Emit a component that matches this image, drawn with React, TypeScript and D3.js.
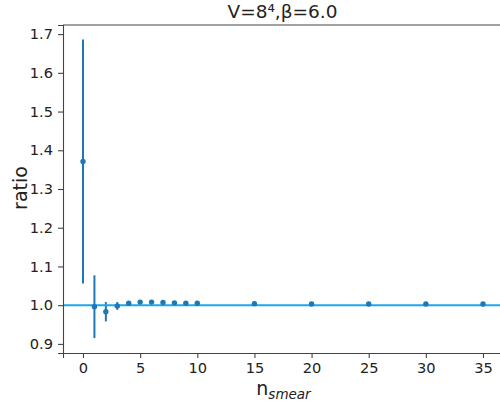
import React, { useEffect, useRef } from 'react';
import * as d3 from 'd3';

// smearing steps, measured ratio and its error
const nSmear = [0, 1, 2, 3, 4, 5, 6, 7, 8, 9, 10, 15, 20, 25, 30, 35];
const ratio = [1.371, 0.996, 0.983, 0.998, 1.005, 1.008, 1.008, 1.007, 1.006, 1.005, 1.005, 1.004, 1.003, 1.003, 1.003, 1.003];
const ratioErr = [0.315, 0.081, 0.025, 0.01, 0.003, 0.003, 0.002, 0.002, 0.002, 0.002, 0.002, 0.001, 0.001, 0.001, 0.001, 0.001];
const xTicks = [0, 5, 10, 15, 20, 25, 30, 35];
const yTicks = [0.9, 1.0, 1.1, 1.2, 1.3, 1.4, 1.5, 1.6, 1.7];

const App = () => {
  const ref = useRef<SVGSVGElement>(null);

  useEffect(() => {
    const svg = d3.select(ref.current);
    svg.selectAll('*').remove();

    const left = 63, top = 25, right = 503, bottom = 353;
    const font = 'DejaVu Sans, sans-serif';

    const x = d3.scaleLinear().domain([-1.75, 36.75]).range([left, right]);
    const y = d3.scaleLinear().domain([0.8765, 1.7235]).range([bottom, top]);

    const color = '#1f77b4';

    // error bars
    svg.append('g')
      .selectAll('line')
      .data(nSmear)
      .enter().append('line')
      .attr('x1', d => x(d))
      .attr('x2', d => x(d))
      .attr('y1', (d, i) => y(ratio[i] - ratioErr[i]))
      .attr('y2', (d, i) => y(ratio[i] + ratioErr[i]))
      .attr('stroke', color)
      .attr('stroke-width', 2);

    // reference line at 1
    svg.append('line')
      .attr('x1', left).attr('x2', right)
      .attr('y1', y(1)).attr('y2', y(1))
      .attr('stroke', '#1ea6ec')
      .attr('stroke-width', 2);

    svg.append('g')
      .selectAll('circle')
      .data(nSmear)
      .enter().append('circle')
      .attr('cx', d => x(d))
      .attr('cy', (d, i) => y(ratio[i]))
      .attr('r', 2.7)
      .attr('fill', color);

    // axes
    const xAxis = svg.append('g')
      .attr('transform', `translate(0,${bottom})`)
      .call(d3.axisBottom(x).tickValues(xTicks).tickSize(5).tickPadding(5).tickFormat(d3.format('d')));
    const yAxis = svg.append('g')
      .attr('transform', `translate(${left},0)`)
      .call(d3.axisLeft(y).tickValues(yTicks).tickSize(5).tickPadding(5).tickFormat(d3.format('.1f')));

    [xAxis, yAxis].forEach(a => {
      a.select('.domain').attr('stroke', '#444').attr('stroke-width', 1.1);
      a.selectAll('.tick line').attr('stroke', '#444').attr('stroke-width', 1.1);
      a.selectAll('.tick text').attr('font-family', font).attr('font-size', 14.6).attr('fill', '#222');
    });

    // top spine
    svg.append('line')
      .attr('x1', left).attr('x2', right)
      .attr('y1', top).attr('y2', top)
      .attr('stroke', '#444').attr('stroke-width', 1.1);

    svg.append('text')
      .attr('x', 282.5)
      .attr('y', 18)
      .attr('text-anchor', 'middle')
      .attr('font-family', font)
      .attr('font-size', 18.5)
      .attr('fill', '#222')
      .text('V=8⁴,β=6.0');

    svg.append('text')
      .attr('transform', `translate(27,188) rotate(-90)`)
      .attr('text-anchor', 'middle')
      .attr('font-family', font)
      .attr('font-size', 19)
      .attr('fill', '#222')
      .text('ratio');

    const xl = svg.append('text')
      .attr('x', 283.5)
      .attr('y', 395)
      .attr('text-anchor', 'middle')
      .attr('font-family', font)
      .attr('font-size', 19)
      .attr('fill', '#222');
    xl.append('tspan').text('n');
    xl.append('tspan')
      .attr('dy', 4)
      .attr('font-size', 13.5)
      .attr('font-style', 'italic')
      .text('smear');
  }, []);

  return (
    <svg ref={ref} width={500} height={408}
      style={{ position: 'absolute', left: 0, top: 0, background: '#fff' }} />
  );
};

export default App;
